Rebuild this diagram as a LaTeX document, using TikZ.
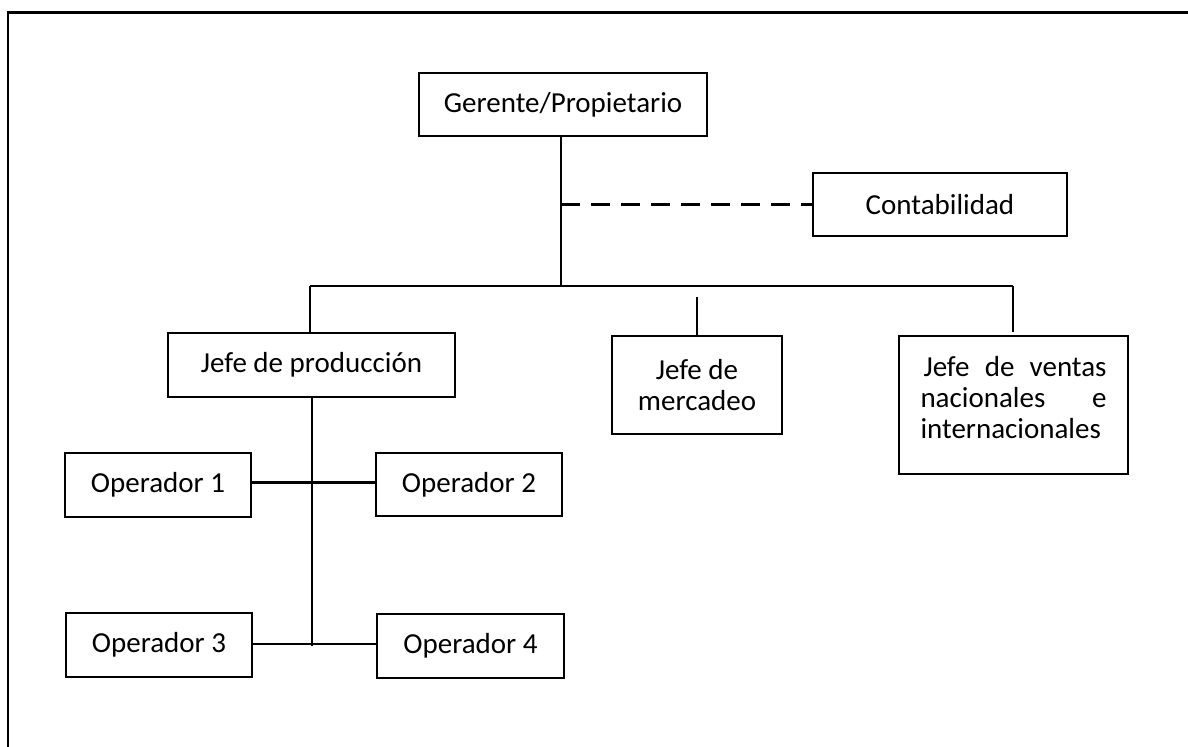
\documentclass[tikz,border=0pt]{standalone}
\usepackage{fontspec}
\setmainfont{Carlito}
\begin{document}
\begin{tikzpicture}[
  x=0.5pt, y=-0.5pt,
  box/.style={draw, line width=1.25pt, rectangle, inner sep=0pt, align=center,
    font=\fontsize{14.5pt}{15.5pt}\selectfont},
  link/.style={line width=1.1pt},
  staff/.style={line width=1.1pt, dash pattern=on 9.5pt off 5.5pt}
]
\useasboundingbox (0,0) rectangle (1188,747);
\clip (0,0) rectangle (1188,747);

% page frame (runs past the right and bottom edges)
\draw[line width=1.4pt] (8,12.5) rectangle (1215,775);

% boxes
\node[box, minimum width=144pt, minimum height=31.5pt] (ger) at (563,104.5) {Gerente/Propietario};
\node[box, minimum width=127pt, minimum height=31.5pt] (con) at (940,204.5) {Contabilidad};
\node[box, minimum width=143.5pt, minimum height=32pt] (prod) at (311.5,365) {Jefe de producción};
\node[box, minimum width=85pt, minimum height=49pt] (merc) at (697,385) {Jefe de\\mercadeo};
\node[box, minimum width=114.5pt, minimum height=69pt, align=left] (vent) at (1013.5,405)
  {\makebox[93pt][s]{\hspace{1.5pt}Jefe de ventas}\\\makebox[93pt][s]{nacionales e}\\internacionales\rule[-8pt]{0pt}{8pt}};
\node[box, minimum width=93pt, minimum height=32pt] (op1) at (158,485) {Operador 1};
\node[box, minimum width=93pt, minimum height=31.5pt] (op2) at (469,484.5) {Operador 2};
\node[box, minimum width=93pt, minimum height=32pt] (op3) at (159,645) {Operador 3};
\node[box, minimum width=93.5pt, minimum height=32pt] (op4) at (470.5,646) {Operador 4};

% junction points
\coordinate (jn) at (561,286);
\coordinate (busL) at (310,286);
\coordinate (busR) at (1013,286);
\coordinate (mtop) at (697,297);
\coordinate (vend) at (1013,332);
\coordinate (trunk) at (312,646);
\coordinate (h1) at (312,482.5);
\coordinate (h2) at (312,644);

% top trunk and staff line
\draw[link] (ger.south -| jn) -- (jn);
\draw[staff] (con.west -| jn) -- (con.west);

% department bus
\draw[link] (busL) -- (busR);
\draw[link] (busL) -- (prod.north -| busL);
\draw[link] (mtop) -- (merc.north);
\draw[link] (busR) -- (vend);

% operators
\draw[link] (prod.south -| trunk) -- (trunk);
\draw[link] (op1.east |- h1) -- (op2.west |- h1);
\draw[link] (op3.east |- h2) -- (op4.west |- h2);
\end{tikzpicture}
\end{document}
